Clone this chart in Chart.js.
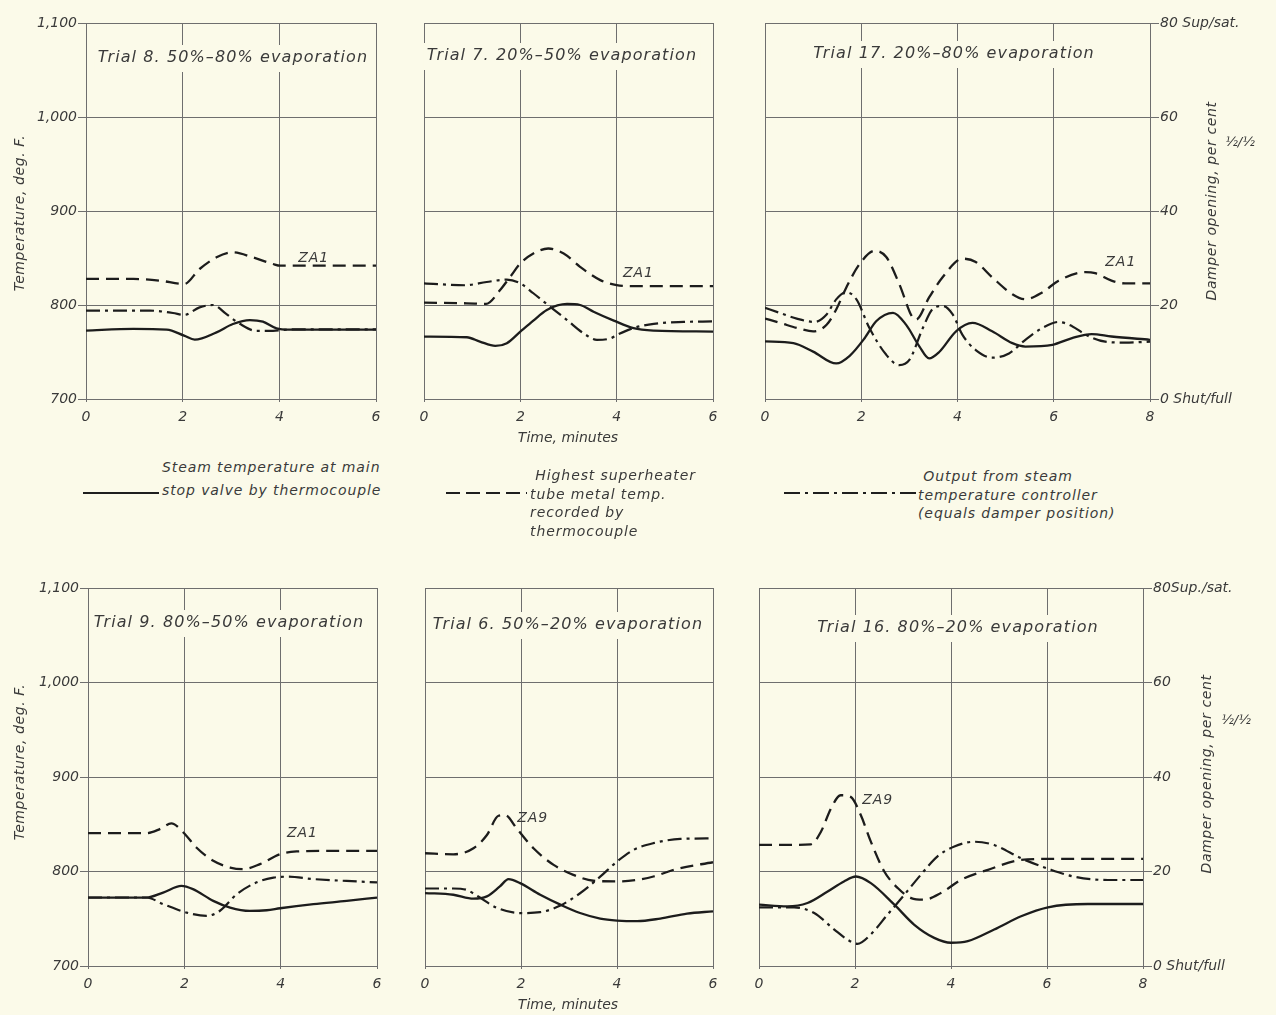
<!DOCTYPE html>
<html>
<head>
<meta charset="utf-8">
<title>Steam temperature control trials</title>
<script src="https://cdn.jsdelivr.net/npm/chart.js@4.4.1/dist/chart.umd.min.js"></script>
<style>
  html, body { margin: 0; padding: 0; background: #fbfae9; }
  body { width: 1276px; height: 1015px; position: relative; overflow: hidden;
         font-family: 'DejaVu Sans', sans-serif; font-style: italic; color: #3a3a3a; }
  canvas.panel { position: absolute; }
  .txt { position: absolute; font-size: 14px; line-height: 18.5px; white-space: nowrap; letter-spacing: 0.9px; }
  .rot { position: absolute; white-space: nowrap; font-size: 14px; letter-spacing: 0.6px;
         transform: translate(-50%, -50%) rotate(-90deg); }
  .ctr { position: absolute; white-space: nowrap; font-size: 14px; transform: translate(-50%, -50%); }
  .frac { position: absolute; white-space: nowrap; font-size: 13px; letter-spacing: 0;
          transform: translate(-50%, -50%); }
  .sample { position: absolute; height: 2.4px; }
</style>
</head>
<body>

<canvas class="panel" id="p8"></canvas>
<canvas class="panel" id="p7"></canvas>
<canvas class="panel" id="p17"></canvas>
<canvas class="panel" id="p9"></canvas>
<canvas class="panel" id="p6"></canvas>
<canvas class="panel" id="p16"></canvas>

<!-- axis titles -->
<div class="rot" style="left:19px;top:213px;">Temperature, deg. F.</div>
<div class="rot" style="left:19px;top:762px;">Temperature, deg. F.</div>
<div class="rot" style="left:1211px;top:201px;">Damper opening, per cent</div>
<div class="rot" style="left:1206px;top:774px;">Damper opening, per cent</div>
<div class="frac" style="left:1240px;top:141px;">½/½</div>
<div class="frac" style="left:1236px;top:719px;">½/½</div>
<div class="ctr" style="left:568px;top:437px;">Time, minutes</div>
<div class="ctr" style="left:568px;top:1004px;">Time, minutes</div>

<!-- key -->
<div class="sample" style="left:83px;top:492px;width:76px;background:#1e1e1e;"></div>
<div class="txt" style="left:162px;top:456px;line-height:23px;">Steam temperature at main<br>stop valve by thermocouple</div>

<div class="sample" style="left:446px;top:492px;width:81px;background:repeating-linear-gradient(90deg,#1e1e1e 0 14px,transparent 14px 20px);"></div>
<div class="txt" style="left:530px;top:466px;">&nbsp;Highest superheater<br>tube metal temp.<br>recorded by<br>thermocouple</div>

<div class="sample" style="left:784px;top:492px;width:133px;background:repeating-linear-gradient(90deg,#1e1e1e 0 16px,transparent 16px 21px,#1e1e1e 21px 24px,transparent 24px 29px);"></div>
<div class="txt" style="left:918px;top:467px;">&nbsp;Output from steam<br>temperature controller<br>(equals damper position)</div>

<script>
// ---- readings: [minutes, value]; steam and metal in deg. F, damper in per cent ----

// Trial 8, 50%-80% evaporation
const trial8Steam  = [[0,772.7],[0.98,774.5],[1.67,773.8],[2.03,767.4],[2.25,763.1],[2.7,770.9],[3.04,779.8],[3.39,784],[3.66,782.3],[3.94,775.2],[4.21,773.8],[6,773.8]];
const trial8Metal  = [[0,827.7],[0.98,827.7],[1.53,825.9],[2.03,822.3],[2.35,838.3],[2.7,850.7],[3.04,856],[3.45,850.7],[3.87,843.6],[4.02,841.8],[4.42,841.8],[6,841.8]];
const trial8Damper = [[0,18.8],[1.32,18.8],[1.8,18.3],[2.03,17.9],[2.35,19.5],[2.63,20.0],[2.9,18.1],[3.18,16.0],[3.52,14.5],[3.87,14.5],[4.21,14.8],[6,14.8]];

// Trial 7, 20%-50% evaporation
const trial7Steam  = [[0,766.4],[0.89,765.7],[1.16,761.1],[1.48,756.5],[1.72,759.4],[2.0,771.7],[2.27,783.4],[2.55,794.7],[2.97,801.1],[3.24,800],[3.52,792.9],[3.94,783.4],[4.35,775.3],[4.77,772.8],[6,771.7]];
const trial7Metal  = [[0,802.5],[0.89,801.8],[1.29,801.1],[1.58,815.9],[1.79,830],[2.0,844.2],[2.27,854.8],[2.58,860.1],[2.9,854.8],[3.24,840.6],[3.66,826.5],[4.0,821.2],[4.35,820.1],[6,820.1]];
const trial7Damper = [[0,24.6],[0.85,24.2],[1.3,24.9],[1.72,25.4],[2.0,24.6],[2.27,22.5],[2.55,20.2],[2.97,16.8],[3.31,14.0],[3.59,12.6],[3.87,12.9],[4.0,13.6],[4.35,15.1],[4.77,16.0],[5.39,16.4],[6,16.5]];

// Trial 17, 20%-80% evaporation
const trial17Steam  = [[0,761.2],[0.59,759.4],[1.0,750.4],[1.48,737.8],[1.76,746],[2.07,764.7],[2.31,782.7],[2.66,791.7],[2.93,779.1],[3.21,755.8],[3.41,743.2],[3.62,750],[3.97,772],[4.31,780.9],[4.72,772],[5.14,759.4],[5.41,755.8],[5.97,757.6],[6.38,764.8],[6.79,769.1],[7.2,766.5],[8,763]];
const trial17Metal  = [[0,785.6],[0.31,781],[0.72,774.8],[1.0,772],[1.28,779],[1.48,795.3],[1.69,818.7],[1.97,843.9],[2.28,857.6],[2.52,851],[2.79,822.3],[3.07,786.3],[3.14,784.5],[3.41,808],[3.69,829.5],[4.1,849.3],[4.38,845.7],[4.72,829.5],[5.14,811.5],[5.41,806.1],[5.76,813.3],[6.1,825.9],[6.66,834.9],[6.86,833.8],[7.2,825.9],[7.48,823],[8,823]];
const trial17Damper = [[0,19.4],[0.31,18.3],[0.66,17.1],[1.03,16.4],[1.28,18.0],[1.48,21.2],[1.69,22.7],[1.9,21.2],[2.17,15.1],[2.52,9.4],[2.79,7.2],[3.0,8.3],[3.28,15.1],[3.48,19.1],[3.69,19.8],[3.9,18.0],[4.1,13.7],[4.38,10.4],[4.72,8.8],[5.07,9.7],[5.41,12.6],[5.76,15.1],[6.1,16.4],[6.38,15.5],[6.66,13.7],[7.07,12.2],[7.48,12.0],[8,12.2]];

// Trial 9, 80%-50% evaporation
const trial9Steam  = [[0,772.4],[1.21,772.4],[1.56,777.7],[1.94,784.8],[2.18,781.3],[2.6,768.9],[2.95,761.8],[3.36,758.3],[3.71,759],[3.99,761.1],[4.68,765.4],[5.37,768.9],[6,772.4]];
const trial9Metal  = [[0,840.6],[1.21,840.6],[1.49,844.9],[1.73,850.9],[1.98,841.3],[2.25,825.4],[2.6,811.3],[2.95,804.2],[3.22,802.5],[3.57,807.8],[3.99,818.4],[4.33,821.2],[5.03,821.9],[6,821.9]];
const trial9Damper = [[0,14.5],[1.21,14.5],[1.56,13.1],[2.05,11.3],[2.46,10.6],[2.74,11.7],[3.09,15.2],[3.5,17.7],[3.85,18.7],[4.13,18.9],[4.68,18.4],[5.37,18.0],[6,17.7]];

// Trial 6, 50%-20% evaporation
const trial6Steam  = [[0,777.2],[0.59,775.4],[1.01,771.2],[1.29,773.7],[1.56,784.2],[1.74,791.9],[1.98,787.7],[2.4,775.4],[2.82,764.9],[3.23,756.1],[3.65,750.2],[4.0,748.1],[4.42,747.4],[4.9,750.2],[5.46,755.4],[6,757.9]];
const trial6Metal  = [[0,819.3],[0.59,818.2],[1.01,824.6],[1.29,838.6],[1.53,859],[1.67,859.7],[1.91,845.6],[2.26,824.6],[2.68,807],[3.09,796.5],[3.51,790.2],[4.0,789.5],[4.42,791.2],[4.76,794.7],[5.25,802.8],[6,809.8]];
const trial6Damper = [[0,16.4],[0.59,16.4],[0.87,16.1],[1.11,14.7],[1.5,12.3],[1.98,11.2],[2.4,11.4],[2.82,12.8],[3.23,15.4],[3.65,18.9],[4.0,22.1],[4.35,24.6],[4.76,26.0],[5.32,26.9],[6,27.0]];

// Trial 16, 80%-20% evaporation
const trial16Steam  = [[0,764.9],[0.59,763.2],[1.01,766.7],[1.43,778.9],[1.77,789.5],[2.02,794.7],[2.33,787.7],[2.82,764.9],[3.23,743.9],[3.65,729.8],[4.0,724.6],[4.35,726.3],[4.9,738.6],[5.46,752.6],[6.02,762.1],[6.85,765.6],[8,765.6]];
const trial16Metal  = [[0,828.1],[0.59,828.1],[1.08,828.8],[1.29,842.1],[1.5,866.7],[1.7,880.7],[1.91,879],[2.12,859.7],[2.33,831.6],[2.61,800],[2.89,782.5],[3.17,771.9],[3.44,770.2],[3.79,777.2],[4.21,791.2],[4.77,801.8],[5.46,812.3],[6.02,813.3],[8,813.3]];
const trial16Damper = [[0,12.4],[0.73,12.4],[1.15,11.2],[1.57,7.7],[1.84,5.6],[2.05,4.7],[2.33,6.7],[2.68,10.9],[3.03,15.1],[3.37,19.3],[3.72,23.2],[4.07,25.3],[4.49,26.3],[4.9,25.6],[5.46,22.8],[6.02,20.6],[6.57,18.9],[7.27,18.2],[8,18.2]];

// axis ticks
const tempTicks = [700, 800, 900, 1000, 1100];
const damperTickLabels = { 0: '0 Shut/full', 20: '20', 40: '40', 60: '60', 80: '80 Sup/sat.' };
const damperTickLabelsLower = { 0: '0 Shut/full', 20: '20', 40: '40', 60: '60', 80: '80Sup./sat.' };

// ---- drawing ----
const BG = '#fbfae9';
const INK = '#1c1c1c';
const GRID = '#6e6e6e';
const TEXT = '#3a3a3a';
const FONT_FAMILY = "'DejaVu Sans', sans-serif";

const toPoints = pairs => pairs.map(p => ({ x: p[0], y: p[1] }));

// panel heading (with a paper-coloured patch that breaks the grid) and curve tag
const panelText = {
  id: 'panelText',
  afterDraw(chart, args, o) {
    const { ctx, chartArea: a, scales } = chart;
    ctx.save();
    ctx.font = `italic 16px ${FONT_FAMILY}`;
    ctx.letterSpacing = '1.1px';
    ctx.textAlign = 'center';
    ctx.textBaseline = 'middle';
    const w = ctx.measureText(o.title).width;
    const cx = a.left + o.titleDx, cy = a.top + o.titleDy;
    ctx.fillStyle = BG;
    ctx.fillRect(cx - w / 2 - 3, cy - 13, w + 6, 27);
    ctx.fillStyle = TEXT;
    ctx.fillText(o.title, cx, cy);
    ctx.font = `italic 14px ${FONT_FAMILY}`;
    ctx.letterSpacing = '1px';
    ctx.textAlign = 'left';
    ctx.fillText(o.tag, scales.x.getPixelForValue(o.tagAt[0]), scales.y.getPixelForValue(o.tagAt[1]));
    ctx.restore();
  }
};

function makePanel(id, box, cfg) {
  const padL = 80, padR = cfg.rightLabels ? 130 : 20, padT = 12, axisH = 34;
  const W = box.r - box.l + padL + padR;
  const H = box.b - box.t + padT + axisH;
  const cv = document.getElementById(id);
  cv.width = W; cv.height = H;
  cv.style.width = W + 'px'; cv.style.height = H + 'px';
  cv.style.left = (box.l - padL) + 'px';
  cv.style.top = (box.t - padT) + 'px';

  const line = { showLine: true, pointRadius: 0, borderColor: INK, fill: false,
                 cubicInterpolationMode: 'monotone' };
  const tickFont = { family: FONT_FAMILY, style: 'italic', size: 14 };

  new Chart(cv, {
    type: 'scatter',
    data: {
      datasets: [
        Object.assign({ label: 'Steam temperature at main stop valve', data: toPoints(cfg.steam),
                        borderWidth: 2.3, yAxisID: 'y' }, line),
        Object.assign({ label: 'Highest superheater tube metal temp.', data: toPoints(cfg.metal),
                        borderWidth: 2.3, borderDash: [13, 7], yAxisID: 'y' }, line),
        Object.assign({ label: 'Output from steam temperature controller', data: toPoints(cfg.damper),
                        borderWidth: 2.2, borderDash: [14, 5, 3, 5], yAxisID: 'y2' }, line)
      ]
    },
    options: {
      responsive: false,
      animation: false,
      devicePixelRatio: 1,
      layout: { padding: { left: 0, right: cfg.rightLabels ? 0 : padR, top: padT, bottom: 0 } },
      plugins: {
        legend: { display: false },
        tooltip: { enabled: false },
        panelText: { title: cfg.title, titleDx: cfg.titleDx, titleDy: cfg.titleDy,
                     tag: cfg.tag, tagAt: cfg.tagAt }
      },
      scales: {
        x: {
          type: 'linear', min: 0, max: cfg.xMax,
          afterFit: s => { s.height = axisH; },
          ticks: { stepSize: 2, color: TEXT, font: tickFont, padding: 7, maxRotation: 0,
                   callback: v => String(v) },
          grid: { color: GRID, lineWidth: 1, tickLength: 3 },
          border: { color: GRID, width: 1 }
        },
        y: {
          min: 700, max: 1100,
          afterFit: s => { s.width = padL; },
          afterBuildTicks: s => { s.ticks = tempTicks.map(v => ({ value: v })); },
          ticks: { display: cfg.leftLabels, color: TEXT, font: tickFont, padding: 1,
                   callback: v => v >= 1000 ? v.toLocaleString('en-US') : String(v) },
          grid: { color: GRID, lineWidth: 1, drawTicks: cfg.leftLabels, tickLength: 8 },
          border: { color: GRID, width: 1 }
        },
        y2: {
          position: 'right', min: 0, max: 80,
          display: cfg.rightLabels ? true : false,
          afterFit: s => { s.width = cfg.rightLabels ? padR : 0; },
          ticks: { stepSize: 20, color: TEXT, font: tickFont, padding: 1,
                   callback: v => (cfg.rightLabels || {})[v] },
          grid: { drawOnChartArea: false, color: GRID, lineWidth: 1, tickLength: 9 },
          border: { color: GRID, width: 1 }
        }
      }
    },
    plugins: [panelText]
  });
}

makePanel('p8',  { l: 86,  r: 376,  t: 23,  b: 399 }, {
  steam: trial8Steam, metal: trial8Metal, damper: trial8Damper, xMax: 6,
  leftLabels: true, rightLabels: null,
  title: 'Trial 8. 50%–80% evaporation', titleDx: 147, titleDy: 35,
  tag: 'ZA1', tagAt: [4.39, 850]
});
makePanel('p7',  { l: 424, r: 713,  t: 23,  b: 399 }, {
  steam: trial7Steam, metal: trial7Metal, damper: trial7Damper, xMax: 6,
  leftLabels: false, rightLabels: null,
  title: 'Trial 7. 20%–50% evaporation', titleDx: 138, titleDy: 33,
  tag: 'ZA1', tagAt: [4.13, 834]
});
makePanel('p17', { l: 765, r: 1150, t: 23,  b: 399 }, {
  steam: trial17Steam, metal: trial17Metal, damper: trial17Damper, xMax: 8,
  leftLabels: false, rightLabels: damperTickLabels,
  title: 'Trial 17. 20%–80% evaporation', titleDx: 189, titleDy: 31,
  tag: 'ZA1', tagAt: [7.07, 845.7]
});
makePanel('p9',  { l: 88,  r: 377,  t: 588, b: 966 }, {
  steam: trial9Steam, metal: trial9Metal, damper: trial9Damper, xMax: 6,
  leftLabels: true, rightLabels: null,
  title: 'Trial 9. 80%–50% evaporation', titleDx: 141, titleDy: 35,
  tag: 'ZA1', tagAt: [4.13, 840.7]
});
makePanel('p6',  { l: 425, r: 713,  t: 588, b: 966 }, {
  steam: trial6Steam, metal: trial6Metal, damper: trial6Damper, xMax: 6,
  leftLabels: false, rightLabels: null,
  title: 'Trial 6. 50%–20% evaporation', titleDx: 143, titleDy: 37,
  tag: 'ZA9', tagAt: [1.92, 856.6]
});
makePanel('p16', { l: 759, r: 1143, t: 588, b: 966 }, {
  steam: trial16Steam, metal: trial16Metal, damper: trial16Damper, xMax: 8,
  leftLabels: false, rightLabels: damperTickLabelsLower,
  title: 'Trial 16. 80%–20% evaporation', titleDx: 199, titleDy: 40,
  tag: 'ZA9', tagAt: [2.15, 875.7]
});
</script>
</body>
</html>
